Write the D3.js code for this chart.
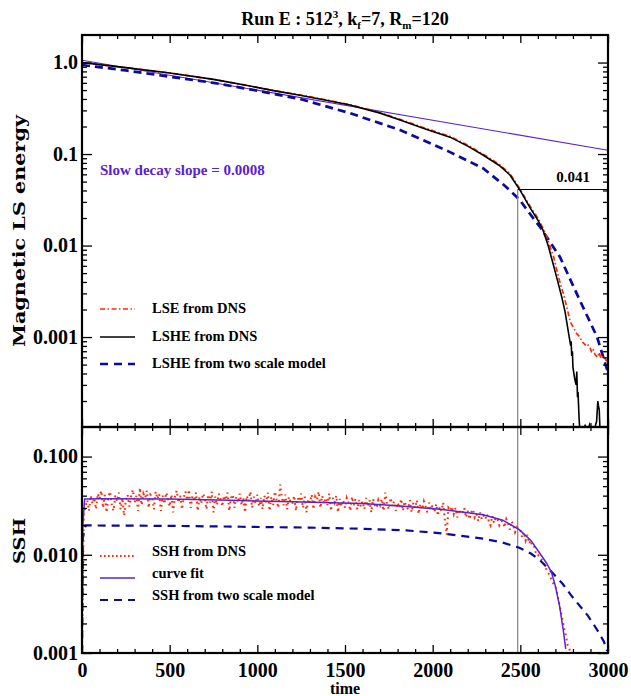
<!DOCTYPE html>
<html><head><meta charset="utf-8">
<script src="https://cdn.jsdelivr.net/npm/d3@7"></script>
<style>
html,body{margin:0;padding:0;background:#fff;}
svg{display:block;}
</style></head><body>
<svg id="c" width="631" height="696"></svg>
<script>
// ---------- data ----------
const lsheT = [0,100,250,500,750,958,1100,1243,1400,1528,1700,1814,1950,2099,2200,2287,2380,2441,2498,2555,2600,2629,2660,2686,2710,2737,2755,2772,2785,2790,2793,2797,2800,2810,2818,2822,2826,2829,2835,2840,2855,2870,2880,2895,2910,2935,2942,2945,2950,2955,2970,3000];
const lsheE = [1.0,0.95,0.88,0.77,0.655,0.553,0.49,0.44,0.385,0.343,0.28,0.235,0.19,0.153,0.122,0.0975,0.075,0.059,0.0404,0.026,0.019,0.0148,0.0098,0.0064,0.0043,0.0027,0.0019,0.0012,0.00085,0.0009,0.00062,0.0007,0.00047,0.00035,0.0003,0.00042,0.00022,0.00025,0.00013,0.00009,0.00008,0.00011,0.00009,0.00011,0.00008,0.00012,0.0002,0.00018,0.00016,0.00009,0.00006,0.00005];

const lseT = [0,100,250,500,750,958,1100,1243,1400,1528,1700,1814,1950,2099,2200,2287,2380,2441,2498,2555,2600,2629,2650,2660,2680,2690,2710,2730,2745,2766,2780,2790,2800,2810,2820,2840,2850,2870,2880,2897,2905,2915,2925,2940,2950,2960,2975,2990,3000];
const lseE = [1.0,0.95,0.88,0.77,0.655,0.555,0.492,0.443,0.389,0.347,0.284,0.239,0.194,0.156,0.125,0.1,0.077,0.061,0.0415,0.027,0.02,0.0155,0.0125,0.011,0.0085,0.0075,0.0052,0.0037,0.003,0.0021,0.0016,0.0014,0.0013,0.0012,0.0011,0.001,0.0009,0.00082,0.00085,0.00077,0.0007,0.00075,0.00065,0.0006,0.00068,0.00058,0.00062,0.00055,0.00057];

const modelT = [0,250,500,750,958,1243,1528,1814,2099,2287,2400,2441,2498,2538,2612,2726,2840,2937,3000];
const modelE = [0.94,0.82,0.70,0.60,0.51,0.40,0.28,0.183,0.105,0.070,0.047,0.040,0.0314,0.0245,0.016,0.0075,0.0025,0.00101,0.00041];

const slowT = [0,3000];
const slowE = [1.06,0.11];

const markT = 2485;
const markE = 0.041;

// SSH from DNS, sampled every 10 time units from t=0
const sshStart = 0, sshStep = 10;
const sshDNS = [
.001,.026,.031,.036,.028,.040,.033,.038,.029,.042,
.037,.045,.030,.041,.027,.039,.044,.032,.028,.040,
.035,.043,.029,.038,.025,.036,.041,.031,.039,.046,
.034,.040,.028,.048,.032,.042,.038,.045,.030,.041,
.039,.029,.044,.037,.042,.028,.040,.033,.043,.038,
.031,.041,.027,.039,.045,.034,.040,.029,.038,.044,
.036,.046,.030,.040,.035,.043,.028,.039,.033,.042,
.038,.029,.041,.034,.044,.027,.039,.032,.042,.037,
.031,.040,.036,.043,.028,.038,.041,.030,.039,.034,
.042,.032,.038,.027,.040,.035,.044,.030,.039,.033,
.041,.031,.038,.029,.040,.034,.043,.028,.039,.032,
.044,.036,.030,.052,.038,.032,.041,.029,.039,.034,
.033,.040,.028,.038,.035,.042,.030,.039,.027,.037,
.034,.041,.029,.039,.036,.044,.030,.040,.033,.038,
.032,.042,.028,.038,.034,.040,.027,.037,.031,.036,
.030,.038,.034,.028,.039,.032,.037,.029,.036,.031,
.035,.029,.038,.031,.036,.027,.037,.032,.030,.036,
.032,.037,.028,.043,.033,.029,.038,.031,.035,.028,
.034,.030,.037,.028,.035,.031,.029,.036,.027,.034,
.030,.036,.026,.033,.029,.035,.031,.027,.034,.029,
.032,.027,.033,.025,.031,.028,.034,.022,.016,.030,
.028,.031,.026,.030,.024,.029,.026,.027,.030,.024,
.028,.023,.027,.029,.024,.026,.022,.027,.023,.025,
.023,.026,.022,.020,.025,.021,.024,.023,.020,.022,
.022,.019,.023,.021,.018,.022,.020,.017,.019,.018,
.018,.015,.017,.014,.016,.013,.014,.012,.012,.010,
.010,.0095,.009,.0085,.0075,.007,.0065,.006,.0055,.005,
.0048,.0040,.0033,.0027,.0022,.0018,.0015,.0012,.0011,.00095,
.0009];
const sshT = d3.range(sshDNS.length).map(i => sshStart + i*sshStep);

const fitT = [0,5,15,100,500,908,1200,1598,1800,2057,2287,2400,2494,2560,2609,2650,2678,2700,2724,2745,2759];
const fitV = [0.001,0.02,0.037,0.0372,0.037,0.0356,0.0347,0.0333,0.0315,0.0289,0.0256,0.0225,0.018,0.014,0.0105,0.0082,0.0066,0.0048,0.003,0.0017,0.0011];

const sshModelT = [0,5,20,500,908,1300,1598,1850,2057,2287,2400,2494,2560,2609,2678,2740,2793,2885,2940,2977,2995];
const sshModelV = [0.001,0.015,0.0199,0.0197,0.0193,0.0189,0.0184,0.0177,0.0165,0.0146,0.0133,0.0118,0.0103,0.0089,0.0067,0.0051,0.0038,0.0024,0.0017,0.0013,0.00105];

const xTicks = [0,500,1000,1500,2000,2500,3000];
const xTickLabels = ["0","500","1000","1500","2000","2500","3000"];
const topYTicks = [1,0.1,0.01,0.001];
const topYLabels = ["1.0","0.1","0.01","0.001"];
const botYTicks = [0.1,0.01,0.001];
const botYLabels = ["0.100","0.010","0.001"];

const topLegend = ["LSE from DNS","LSHE from DNS","LSHE from two scale model"];
const botLegend = ["SSH from DNS","curve fit","SSH from two scale model"];

// ---------- layout ----------
const SERIF = "'Liberation Serif','Times New Roman',serif";
const HEAVY = "'DejaVu Serif',serif";
const svg = d3.select("#c");
const L = 82, R = 608, T1 = 35, B1 = 427, T2 = 427, B2 = 653;
const RED = "#ff2a00", BLUE = "#0a0a9c", PURPLE = "#5a20d8";

const x = d3.scaleLinear().domain([0,3000]).range([L,R]);
const y1 = d3.scaleLog().domain([1.04e-4,2.0]).range([B1,T1]);
const y2 = d3.scaleLog().domain([0.001,0.2]).range([B2,T2]);

function txt(sel, size, fam){ return sel.style("font-family", fam||SERIF).style("font-weight","bold").style("font-size", size+"px"); }

const defs = svg.append("defs");
defs.append("clipPath").attr("id","cp1").append("rect").attr("x",L).attr("y",T1).attr("width",R-L).attr("height",B1-T1);
defs.append("clipPath").attr("id","cp2").append("rect").attr("x",L).attr("y",T2).attr("width",R-L).attr("height",B2-T2);

function minorLog(dom){
  const out=[]; const lo=Math.floor(Math.log10(dom[0])), hi=Math.ceil(Math.log10(dom[1]));
  for(let e=lo;e<=hi;e++) for(let k=2;k<=9;k++){const v=k*Math.pow(10,e); if(v>dom[0]&&v<dom[1]) out.push(v);}
  return out;
}
const xMinor = d3.range(0,3001,100).filter(v=>v%500!==0);

function drawAxes(y, top, bot, yt, ylab){
  const g = svg.append("g");
  const yMin = minorLog(y.domain());
  g.append("g").attr("transform",`translate(${L},0)`).call(d3.axisLeft(y).tickValues(yMin).tickSize(-5).tickFormat(""));
  g.append("g").attr("transform",`translate(${R},0)`).call(d3.axisRight(y).tickValues(yMin).tickSize(-5).tickFormat(""));
  g.append("g").attr("class","ylab").attr("transform",`translate(${L},0)`).call(d3.axisLeft(y).tickValues(yt).tickSize(-10).tickPadding(4).tickFormat((d,i)=>ylab[i]));
  g.append("g").attr("transform",`translate(${R},0)`).call(d3.axisRight(y).tickValues(yt).tickSize(-10).tickFormat(""));
  g.append("g").attr("transform",`translate(0,${top})`).call(d3.axisTop(x).tickValues(xMinor).tickSize(-4).tickFormat(""));
  g.append("g").attr("transform",`translate(0,${top})`).call(d3.axisTop(x).tickValues(xTicks).tickSize(-8).tickFormat(""));
  g.append("g").attr("transform",`translate(0,${bot})`).call(d3.axisBottom(x).tickValues(xMinor).tickSize(-4).tickFormat(""));
  g.append("g").attr("transform",`translate(0,${bot})`).call(d3.axisBottom(x).tickValues(xTicks).tickSize(-8).tickFormat(""));
  g.selectAll(".domain").remove();
  g.selectAll(".tick line").attr("stroke","#000").attr("stroke-width",1.3);
  txt(g.selectAll(".ylab text"),20).attr("fill","#000");
  g.append("rect").attr("x",L).attr("y",top).attr("width",R-L).attr("height",bot-top)
    .attr("fill","none").attr("stroke","#000").attr("stroke-width",2.2);
}

function line(y, ts, vs){
  return d3.line().x((d,i)=>x(ts[i])).y((d,i)=>y(vs[i]))(vs);
}

// ---------- top panel ----------
const p1 = svg.append("g").attr("clip-path","url(#cp1)");
p1.append("path").attr("d",line(y1,slowT,slowE)).attr("fill","none").attr("stroke",PURPLE).attr("stroke-width",1.1);
p1.append("path").attr("d",line(y1,modelT,modelE)).attr("fill","none").attr("stroke",BLUE).attr("stroke-width",2.7).attr("stroke-dasharray","8,5");
p1.append("path").attr("d",line(y1,lseT,lseE)).attr("fill","none").attr("stroke",RED).attr("stroke-width",1.7).attr("stroke-dasharray","5,2.5,1.5,2.5");
p1.append("path").attr("d",line(y1,lsheT,lsheE)).attr("fill","none").attr("stroke","#000").attr("stroke-width",1.6);

svg.append("line").attr("x1",x(markT)).attr("x2",x(markT)).attr("y1",y1(markE)).attr("y2",B2).attr("stroke","#808080").attr("stroke-width",1.2);
svg.append("line").attr("x1",x(markT)).attr("x2",R).attr("y1",y1(markE)).attr("y2",y1(markE)).attr("stroke","#000").attr("stroke-width",1.1);
txt(svg.append("text"),15).attr("x",573).attr("y",y1(markE)-7).attr("text-anchor","middle").text(String(markE));

txt(svg.append("text"),15).attr("x",100).attr("y",175).attr("fill",PURPLE).text("Slow decay slope = 0.0008");

const lg1 = [ {c:RED,w:1.7,da:"5,2.5,1.5,2.5"}, {c:"#000",w:1.6,da:null}, {c:BLUE,w:2.5,da:"8,6"} ];
const lgY1 = [309,337,364];
lg1.forEach((s,i)=>{
  svg.append("line").attr("x1",100).attr("x2",135).attr("y1",lgY1[i]).attr("y2",lgY1[i]).attr("stroke",s.c).attr("stroke-width",s.w).attr("stroke-dasharray",s.da);
  txt(svg.append("text"),14.5).attr("x",152).attr("y",lgY1[i]+4).text(topLegend[i]);
});

drawAxes(y1, T1, B1, topYTicks, topYLabels);

// ---------- bottom panel ----------
const p2 = svg.append("g").attr("clip-path","url(#cp2)");
p2.append("path").attr("d",line(y2,sshT,sshDNS)).attr("fill","none").attr("stroke",RED).attr("stroke-width",2).attr("stroke-dasharray","1.7,3.6");
p2.append("path").attr("d",line(y2,sshModelT,sshModelV)).attr("fill","none").attr("stroke",BLUE).attr("stroke-width",2.2).attr("stroke-dasharray","8,6");
p2.append("path").attr("d",line(y2,fitT,fitV)).attr("fill","none").attr("stroke",PURPLE).attr("stroke-width",1.5);

const lg2 = [ {c:RED,w:2.2,da:"1.6,2.4"}, {c:PURPLE,w:1.6,da:null}, {c:BLUE,w:2.2,da:"8,6"} ];
const lgY2 = [556,578,600];
lg2.forEach((s,i)=>{
  svg.append("line").attr("x1",100).attr("x2",135).attr("y1",lgY2[i]).attr("y2",lgY2[i]).attr("stroke",s.c).attr("stroke-width",s.w).attr("stroke-dasharray",s.da);
  txt(svg.append("text"),14.5).attr("x",152).attr("y",lgY2[i]).text(botLegend[i]);
});

drawAxes(y2, T2, B2, botYTicks, botYLabels);

// x tick labels
const xl = svg.append("g").attr("class","xlab").attr("transform",`translate(0,${B2})`)
  .call(d3.axisBottom(x).tickValues(xTicks).tickSize(0).tickPadding(10).tickFormat((d,i)=>xTickLabels[i]));
xl.select(".domain").remove();
txt(xl.selectAll("text"),20).attr("fill","#000");

// titles
const title = txt(svg.append("text"),18).attr("x",345).attr("y",25).attr("text-anchor","middle");
title.append("tspan").text("Run E : 512");
title.append("tspan").style("font-size","11px").attr("dy",-7).text("3");
title.append("tspan").attr("dy",7).text(", k");
title.append("tspan").style("font-size","11px").attr("dy",4).text("f");
title.append("tspan").attr("dy",-4).text("=7, R");
title.append("tspan").style("font-size","11px").attr("dy",4).text("m");
title.append("tspan").attr("dy",-4).text("=120");

txt(svg.append("text"),17,HEAVY).attr("transform","translate(25,231) rotate(-90)").attr("text-anchor","middle")
  .attr("textLength",232).attr("lengthAdjust","spacingAndGlyphs").text("Magnetic LS energy");
txt(svg.append("text"),17,HEAVY).attr("transform","translate(25,541) rotate(-90)").attr("text-anchor","middle")
  .attr("textLength",46).attr("lengthAdjust","spacingAndGlyphs").text("SSH");
txt(svg.append("text"),16).attr("x",345).attr("y",694).attr("text-anchor","middle").text("time");
</script>
</body></html>
